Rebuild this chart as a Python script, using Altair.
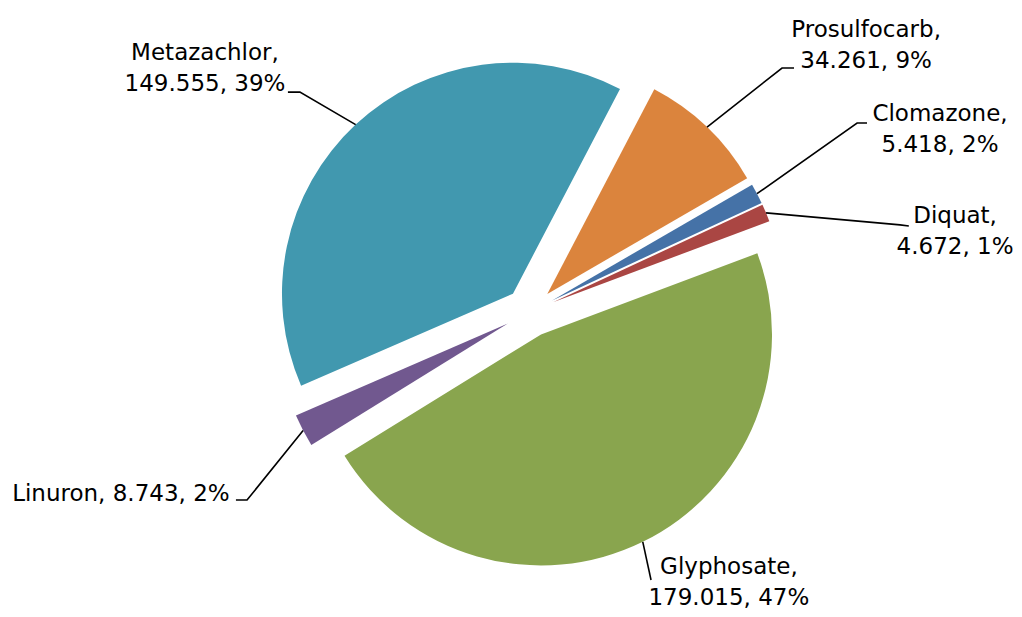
import math
import altair as alt
import pandas as pd

# ---- data ----
categories = ["Prosulfocarb", "Clomazone", "Diquat", "Glyphosate", "Linuron", "Metazachlor"]
values = [34.261, 5.418, 4.672, 179.015, 8.743, 149.555]
percent_labels = ["9%", "2%", "1%", "47%", "2%", "39%"]

# ---- style / layout ----
colors = ["#DB843D", "#4572A7", "#AA4643", "#89A54E", "#71588F", "#4198AF"]
W, H = 1006, 601          # whole chart (autosize none, padding 0)
CX, CY, R = 522, 304, 231  # pie centre (px) and radius (px); 1 data unit = R px
EXPLODE = 25 / R           # slice explosion, in radius units
START = math.radians(27.6) # angle where the first slice starts (clockwise from 12 o'clock)
FONT = "DejaVu Sans"

# label anchors: centre of the first text line (radius units, pie centre = 0,0, y up)
label_pos = {
    "Prosulfocarb": (1.455, 1.221),
    "Clomazone": (1.775, 0.857),
    "Diquat": (1.840, 0.416),
    "Glyphosate": (0.861, -1.104),
    "Linuron": (-1.771, -0.788),
    "Metazachlor": (-1.407, 1.121),
}
single_line = {"Linuron"}
# leader line bend / end points (radius units)
leader_pts = {
    "Prosulfocarb": [(1.091, 1.056), (1.143, 1.056)],
    "Clomazone": [(1.416, 0.818), (1.459, 0.818)],
    "Diquat": [(1.602, 0.377), (1.640, 0.372)],
    "Glyphosate": [(0.524, -1.160)],
    "Linuron": [(-1.225, -0.814), (-1.273, -0.814)],
    "Metazachlor": [(-0.996, 0.952), (-1.048, 0.952)],
}

total = sum(values)
slices, lines, texts = [], [], []
cum = 0.0
for name, v, pct in zip(categories, values, percent_labels):
    c0, c1 = cum, cum + v
    cum = c1
    mid = START + 2 * math.pi * (c0 + c1) / 2 / total
    sx, sy = math.sin(mid), math.cos(mid)
    slices.append(dict(name=name, value=v, c0=c0, c1=c1, cx=EXPLODE * sx, cy=EXPLODE * sy))
    pts = [((1 + EXPLODE) * sx, (1 + EXPLODE) * sy)] + leader_pts[name]
    for i, (px, py) in enumerate(pts):
        lines.append(dict(name=name, i=i, x=px, y=py))
    val = f"{v:.3f}"
    if name in single_line:
        label = f"{name}, {val}, {pct}"
    else:
        label = f"{name},\n{val}, {pct}"
    tx, ty = label_pos[name]
    texts.append(dict(name=name, label=label, x=tx, y=ty))

df = pd.DataFrame(slices)
df_lines = pd.DataFrame(lines)
df_text = pd.DataFrame(texts)

xs = alt.Scale(domain=[-CX / R, (W - CX) / R], nice=False, zero=False)
ys = alt.Scale(domain=[-(H - CY) / R, CY / R], nice=False, zero=False)

arcs = alt.Chart(df).mark_arc(outerRadius=R).encode(
    x=alt.X("cx:Q", scale=xs, axis=None),
    y=alt.Y("cy:Q", scale=ys, axis=None),
    theta=alt.Theta("c0:Q", stack=None,
                    scale=alt.Scale(domain=[0, total], range=[START, START + 2 * math.pi])),
    theta2="c1:Q",
    color=alt.Color("name:N", scale=alt.Scale(domain=categories, range=colors), legend=None),
)

leaders = alt.Chart(df_lines).mark_line(color="black", strokeWidth=1.6).encode(
    x=alt.X("x:Q", scale=xs, axis=None),
    y=alt.Y("y:Q", scale=ys, axis=None),
    detail="name:N",
    order="i:Q",
)

labels = alt.Chart(df_text).mark_text(
    font=FONT, fontSize=23, lineHeight=31, lineBreak="\n",
    align="center", baseline="middle", color="black"
).encode(
    x=alt.X("x:Q", scale=xs, axis=None),
    y=alt.Y("y:Q", scale=ys, axis=None),
    text="label:N",
)

chart = alt.layer(arcs, leaders, labels).properties(
    width=W, height=H, padding=0,
    autosize=alt.AutoSizeParams(type="none"),
).configure_view(stroke=None)

chart.save("out.html", embed_options={"renderer": "svg", "actions": False})
